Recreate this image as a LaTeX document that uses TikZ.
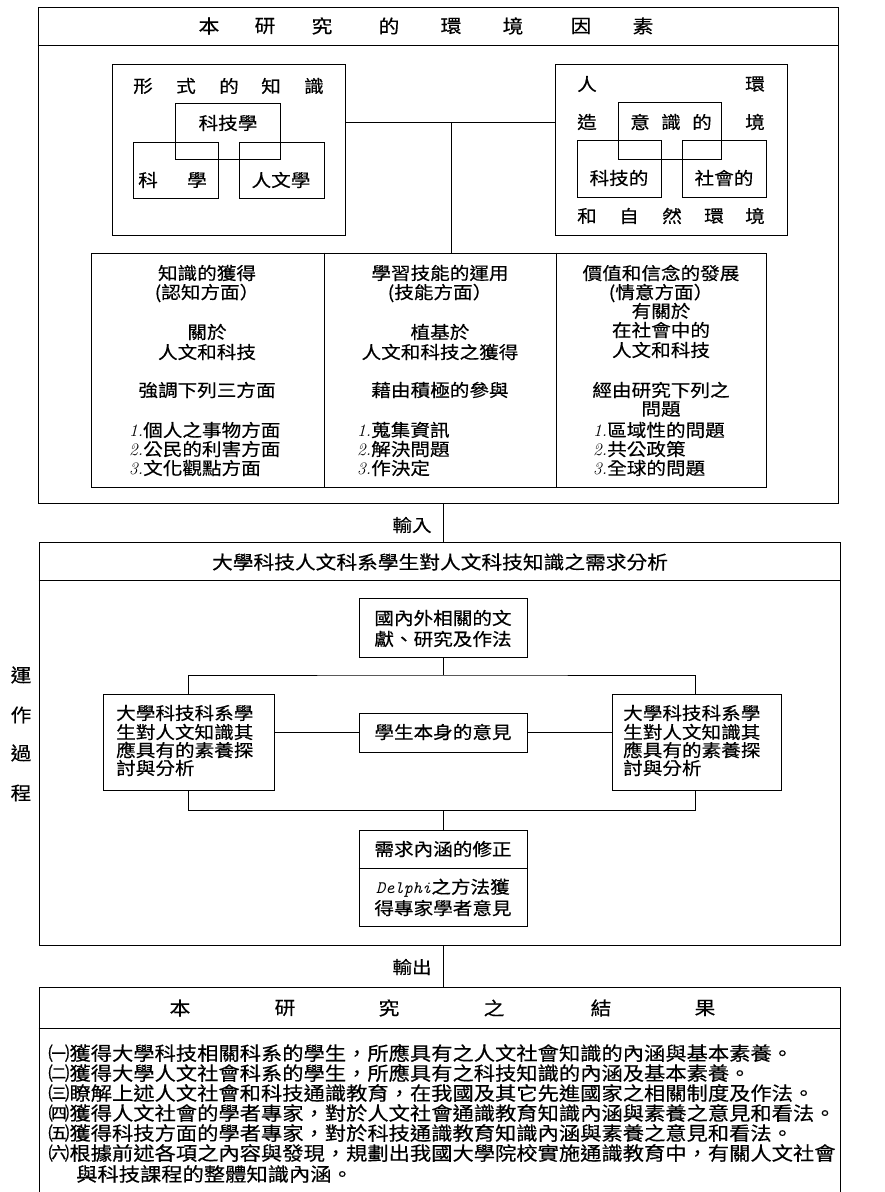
\documentclass[tikz,border=0pt]{standalone}
\usepackage{fontspec}
\newfontfamily\cjk{Noto Sans CJK TC}[FakeStretch=1.12,FakeBold=0.4]
\newcommand\fsz[2]{\fontsize{#1}{#2}\selectfont}
\newcommand\rbox[5]{\node[box, minimum width={(#4-#2)*1pt}, minimum height={(#5-#3)*1pt}] (#1) at ({(#2+#4)/2},{(#3+#5)/2}) {};}
\newcommand\nm[1]{{\rmfamily\itshape #1}}
\begin{document}
\begin{tikzpicture}[x=1pt,y=-1pt,
  box/.style={draw, line width=0.9pt, inner sep=0pt},
  ln/.style={line width=0.9pt},
  tx/.style={inner sep=0pt, font=\cjk\fsz{17.5}{18.5}},
  big/.style={inner sep=0pt, font=\cjk\fsz{18.5}{20}}]
\clip (0,0) rectangle (884,1192);
\fill[white] (0,0) rectangle (884,1192);

% ---------- top box ----------
\rbox{top}{38}{7}{838}{503}
\draw[ln] (top.west |- 0,45) -- (top.east |- 0,45);
\foreach \c/\x [count=\i] in {本/209,研/265,究/322,的/389,環/451,境/513,因/581,素/643}
  \node[big] (tt\i) at (\x,26) {\c};

\rbox{formal}{112}{64}{345}{235}
\foreach \c/\x [count=\i] in {形/143,式/186,的/229,知/271,識/314}
  \node[tx] (fk\i) at (\x,86) {\c};
\rbox{techsci}{175}{103}{280}{159}
\rbox{sci}{133}{142}{218}{198}
\rbox{hum}{239}{142}{324}{198}
\node[tx] (techscit) at (228,123) {科技學};
\node[tx] (scit1) at (148,180) {科};
\node[tx] (scit2) at (197,180) {學};
\node[tx] (humt) at (281,180) {人文學};

\rbox{made}{555}{64}{787}{235}
\rbox{consc}{618}{102}{721}{159}
\rbox{techd}{577}{140}{661}{197}
\rbox{soc}{682}{140}{766}{197}
\node[tx] (m1) at (587,84) {人};
\node[tx] (m2) at (755,84) {環};
\node[tx] (m3) at (587,122) {造};
\node[tx] (m4) at (755,122) {境};
\foreach \c/\x [count=\i] in {意/640,識/671,的/702}
  \node[tx] (cs\i) at (\x,122) {\c};
\node[tx] (techdt) at (619,178) {科技的};
\node[tx] (soct) at (724,178) {社會的};
\foreach \c/\x [count=\i] in {和/587,自/629,然/672,環/714,境/755}
  \node[tx] (ne\i) at (\x,216) {\c};

\rbox{tab}{91}{253}{766}{487}
\coordinate (j1) at (451,122);
\draw[ln] (j1 -| formal.east) -- (j1 -| made.west);
\draw[ln] (j1) -- (j1 |- tab.north);
\draw[ln] (tab.north -| 324,0) -- (tab.south -| 324,0);
\draw[ln] (tab.north -| 556,0) -- (tab.south -| 556,0);

% column 1
\node[tx] (a1) at (207,273) {知識的獲得};
\node[tx] (a2) at (207,293) {(認知方面）};
\node[tx] (a3) at (207,332) {關於};
\node[tx] (a4) at (207,352) {人文和科技};
\node[tx] (a5) at (207,390) {強調下列三方面};
\node[tx,anchor=west] (a6) at (129,430) {\nm{1.}個人之事物方面};
\node[tx,anchor=west] (a7) at (129,449) {\nm{2.}公民的利害方面};
\node[tx,anchor=west] (a8) at (129,468) {\nm{3.}文化觀點方面};
% column 2
\node[tx] (b1) at (440,273) {學習技能的運用};
\node[tx] (b2) at (440,293) {(技能方面）};
\node[tx] (b3) at (440,332) {植基於};
\node[tx] (b4) at (440,352) {人文和科技之獲得};
\node[tx] (b5) at (440,390) {藉由積極的參與};
\node[tx,anchor=west] (b6) at (357,430) {\nm{1.}蒐集資訊};
\node[tx,anchor=west] (b7) at (357,449) {\nm{2.}解決問題};
\node[tx,anchor=west] (b8) at (357,468) {\nm{3.}作決定};
% column 3
\node[tx] (c1) at (661,273) {價值和信念的發展};
\node[tx] (c2) at (661,293) {(情意方面）};
\node[tx] (c3) at (661,311) {有關於};
\node[tx] (c4) at (661,330) {在社會中的};
\node[tx] (c5) at (661,350) {人文和科技};
\node[tx] (c6) at (661,390) {經由研究下列之};
\node[tx] (c7) at (661,409) {問題};
\node[tx,anchor=west] (c8) at (593,430) {\nm{1.}區域性的問題};
\node[tx,anchor=west] (c9) at (593,449) {\nm{2.}共公政策};
\node[tx,anchor=west] (c10) at (593,468) {\nm{3.}全球的問題};

% ---------- input ----------
\rbox{mid}{39}{542}{840}{945}
\draw[ln] (top.south -| 443,0) -- (mid.north -| 443,0);
\node[tx] (inp) at (412,525) {輸入};
\draw[ln] (mid.west |- 0,580) -- (mid.east |- 0,580);
\node[big] (midt) at (440,562) {大學科技人文科系學生對人文科技知識之需求分析};

\rbox{lit}{359}{598}{527}{657}
\node[tx] (lit1) at (443,618) {國內外相關的文};
\node[tx] (lit2) at (443,639) {獻、研究及作法};
\rbox{lft}{103}{694}{274}{790}
\rbox{rgt}{612}{694}{781}{790}
\rbox{stud}{359}{713}{527}{752}
\node[tx] (studt) at (443,732) {學生本身的意見};
\foreach \s/\y [count=\i] in {大學科技科系學/713,生對人文知識其/732,應具有的素養探/750,討與分析/768}{
  \node[tx,anchor=west] (l\i) at (116,\y) {\s};
  \node[tx,anchor=west] (r\i) at (623,\y) {\s};
}
\coordinate (h1) at (443,675);
\draw[ln] (lit.south) -- (h1);
\draw[ln] (lft.north -| 188,0) |- (h1) -| (rgt.north -| 695,0);
\draw[ln] (lft.east |- stud.west) -- (stud.west);
\draw[ln] (stud.east) -- (rgt.west |- stud.east);

\rbox{need}{359}{830}{527}{926}
\draw[ln] (need.west |- 0,868) -- (need.east |- 0,868);
\node[tx] (need1) at (443,849) {需求內涵的修正};
\node[tx] (need2) at (443,888) {{\ttfamily\itshape Delphi}之方法獲};
\node[tx] (need3) at (443,908) {得專家學者意見};
\coordinate (h2) at (443,810);
\draw[ln] (lft.south -| 188,0) |- (h2) -| (rgt.south -| 695,0);
\draw[ln] (h2) -- (need.north);

\foreach \c/\y [count=\i] in {運/675,作/715,過/753,程/793}
  \node[big] (op\i) at (21,\y) {\c};

% ---------- output ----------
\rbox{res}{39}{987}{840}{1210}
\draw[ln] (mid.south -| 443,0) -- (res.north -| 443,0);
\node[tx] (outp) at (412,967) {輸出};
\draw[ln] (res.west |- 0,1028) -- (res.east |- 0,1028);
\foreach \c/\x [count=\i] in {本/180,研/285,究/389,之/494,結/601,果/705}
  \node[big] (rt\i) at (\x,1008) {\c};
\begin{scope}[every node/.style={inner sep=0pt, anchor=west, font=\cjk\fsz{19}{20}}]
\node (p1) at (48,1053) {㈠獲得大學科技相關科系的學生，所應具有之人文社會知識的內涵與基本素養。};
\node (p2) at (48,1073) {㈡獲得大學人文社會科系的學生，所應具有之科技知識的內涵及基本素養。};
\node (p3) at (48,1093) {㈢瞭解上述人文社會和科技通識教育，在我國及其它先進國家之相關制度及作法。};
\node (p4) at (48,1113) {㈣獲得人文社會的學者專家，對於人文社會通識教育知識內涵與素養之意見和看法。};
\node (p5) at (48,1133) {㈤獲得科技方面的學者專家，對於科技通識教育知識內涵與素養之意見和看法。};
\node (p6) at (48,1153) {㈥根據前述各項之內容與發現，規劃出我國大學院校實施通識教育中，有關人文社會};
\node (p7) at (76,1174) {與科技課程的整體知識內涵。};
\end{scope}
\end{tikzpicture}
\end{document}
